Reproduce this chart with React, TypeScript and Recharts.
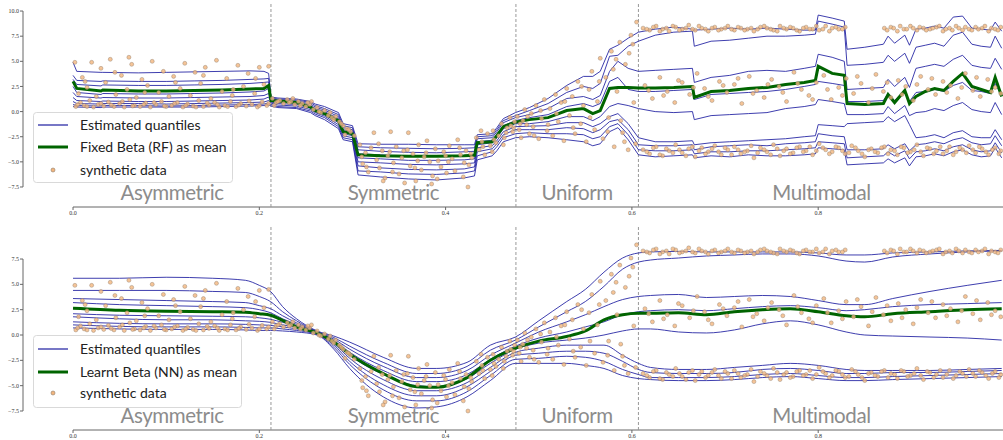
import React from 'react';
import { ComposedChart, Line, Scatter, XAxis, YAxis, ReferenceLine } from 'recharts';

// ---------- axes / regions ----------
const xTicks = [0, 0.2, 0.4, 0.6, 0.8];
const topYTicks = [-7.5, -5, -2.5, 0, 2.5, 5, 7.5, 10];
const bottomYTicks = [-7.5, -5, -2.5, 0, 2.5, 5, 7.5];
const regionBounds = [0, 0.2125, 0.4755, 0.607, 1.0];
const regionNames = ['Asymmetric', 'Symmetric', 'Uniform', 'Multimodal'];
const quantileKeys = ['q10', 'q20', 'q30', 'q40', 'q50', 'q60', 'q70', 'q80', 'q90'];

// ---------- top panel (Fixed Beta, RF): [x, q10..q90, mean] ----------
const topAsymmetric = [
  [0.000, 0.5, 0.7, 1.0, 1.4, 1.9, 2.5, 3.2, 3.6, 4.9, 3.0],
  [0.004, 0.45, 0.6, 0.8, 1.1, 1.5, 1.9, 2.7, 3.1, 4.0, 2.3],
  [0.030, 0.4, 0.55, 0.75, 1.0, 1.35, 1.7, 2.55, 3.0, 3.9, 2.05],
  [0.032, 0.45, 0.6, 0.8, 1.05, 1.4, 1.8, 2.65, 3.05, 3.9, 2.15],
  [0.070, 0.45, 0.6, 0.8, 1.0, 1.35, 1.75, 2.6, 3.0, 3.85, 2.05],
  [0.100, 0.45, 0.55, 0.75, 1.0, 1.35, 1.75, 2.6, 3.0, 3.9, 2.05],
  [0.130, 0.45, 0.6, 0.8, 1.05, 1.4, 1.8, 2.65, 3.05, 3.95, 2.1],
  [0.160, 0.5, 0.65, 0.85, 1.1, 1.45, 1.85, 2.7, 3.1, 4.0, 2.15],
  [0.190, 0.55, 0.7, 0.9, 1.15, 1.5, 1.95, 2.8, 3.2, 4.05, 2.25],
  [0.205, 0.6, 0.75, 0.95, 1.25, 1.6, 2.05, 2.9, 3.25, 4.0, 2.3],
  [0.210, 0.7, 0.85, 1.1, 1.45, 1.8, 2.3, 2.95, 3.3, 3.8, 2.6],
];
const topSymmetric = [
  [0.2125, 0.55, 0.7, 0.85, 0.95, 1.05, 1.15, 1.25, 1.35, 1.45, 1.1],
  [0.220, 0.4, 0.5, 0.65, 0.8, 0.95, 1.05, 1.15, 1.25, 1.35, 1.05],
  [0.240, 0.3, 0.4, 0.55, 0.7, 0.85, 0.95, 1.05, 1.15, 1.25, 0.9],
  [0.255, -0.1, 0.05, 0.2, 0.35, 0.45, 0.6, 0.75, 0.9, 1.0, 0.45],
  [0.260, -0.4, -0.25, -0.1, 0.05, 0.15, 0.3, 0.45, 0.6, 0.75, 0.1],
  [0.270, -0.8, -0.6, -0.45, -0.3, -0.15, 0.0, 0.15, 0.3, 0.5, -0.2],
  [0.285, -1.7, -1.5, -1.3, -1.1, -0.9, -0.7, -0.5, -0.3, -0.1, -0.9],
  [0.290, -2.8, -2.6, -2.4, -2.2, -2.0, -1.8, -1.6, -1.4, -1.2, -2.0],
  [0.300, -3.0, -2.8, -2.6, -2.4, -2.2, -2.0, -1.8, -1.6, -1.4, -2.2],
  [0.306, -6.3, -5.9, -5.4, -5.0, -4.6, -4.2, -3.8, -3.5, -3.2, -4.3],
  [0.330, -6.5, -6.0, -5.6, -5.1, -4.7, -4.3, -3.95, -3.6, -3.25, -4.4],
  [0.360, -6.7, -6.2, -5.75, -5.25, -4.85, -4.45, -4.05, -3.65, -3.25, -4.45],
  [0.390, -6.8, -6.25, -5.8, -5.3, -4.85, -4.45, -4.1, -3.7, -3.3, -4.45],
  [0.420, -6.6, -6.1, -5.7, -5.2, -4.8, -4.4, -4.0, -3.65, -3.3, -4.4],
  [0.431, -6.4, -5.9, -5.5, -5.1, -4.7, -4.3, -3.95, -3.6, -3.3, -4.35],
  [0.434, -4.8, -4.4, -4.0, -3.6, -3.3, -3.0, -2.7, -2.5, -2.3, -3.1],
  [0.450, -4.4, -4.0, -3.7, -3.4, -3.1, -2.85, -2.6, -2.4, -2.2, -3.0],
  [0.455, -3.9, -3.5, -3.2, -2.9, -2.6, -2.3, -2.0, -1.8, -1.6, -2.4],
  [0.462, -3.0, -2.6, -2.3, -2.0, -1.7, -1.4, -1.1, -0.9, -0.7, -1.5],
  [0.475, -2.6, -2.2, -1.8, -1.5, -1.2, -0.9, -0.6, -0.4, -0.1, -1.05],
];
const topUniform = [
  [0.490, -2.5, -2.1, -1.8, -1.45, -1.2, -0.6, -0.3, 0.1, 0.4, -0.8],
  [0.510, -2.6, -2.2, -1.8, -1.4, -1.0, -0.3, 0.3, 0.8, 1.3, -0.6],
  [0.530, -2.8, -2.2, -1.6, -1.1, -0.5, 0.5, 1.3, 1.9, 2.6, 0.1],
  [0.548, -3.0, -2.3, -1.7, -1.1, -0.5, 0.8, 1.5, 2.5, 3.5, 0.3],
  [0.558, -3.4, -2.7, -2.1, -1.5, -0.9, 0.5, 1.2, 2.3, 3.5, -0.2],
  [0.566, -3.2, -2.5, -1.8, -1.2, -0.5, 0.8, 1.6, 2.8, 4.0, 0.1],
  [0.576, -2.0, -1.5, -1.0, -0.5, 0.5, 3.0, 4.0, 5.5, 6.2, 2.3],
  [0.585, -1.6, -1.2, -0.8, -0.2, 0.8, 3.4, 5.0, 5.6, 6.6, 2.4],
  [0.596, -2.8, -2.3, -1.8, -1.2, 0.6, 2.2, 4.3, 6.5, 7.3, 2.4],
  [0.607, -4.3, -3.8, -3.3, -2.6, 0.3, 2.0, 4.0, 7.0, 7.9, 2.35],
];
const topMultimodal = [
  [0.625, -4.5, -3.9, -3.4, -3.0, 0.0, 2.0, 4.1, 7.6, 8.2, 2.35],
  [0.645, -4.4, -3.9, -3.4, -3.0, -0.1, 2.1, 4.2, 7.9, 8.4, 2.4],
  [0.665, -4.3, -3.8, -3.3, -2.9, 0.0, 2.2, 4.3, 8.0, 8.2, 2.5],
  [0.667, -4.6, -4.2, -3.8, -3.3, -0.8, 1.2, 2.9, 6.5, 8.1, 1.4],
  [0.685, -4.4, -4.0, -3.5, -3.1, -0.4, 1.7, 3.4, 7.0, 8.2, 2.0],
  [0.705, -4.5, -4.0, -3.4, -3.0, -0.3, 1.8, 3.6, 7.1, 8.3, 2.1],
  [0.725, -4.3, -3.9, -3.3, -2.9, -0.2, 1.9, 4.0, 7.3, 8.2, 2.3],
  [0.745, -4.4, -3.9, -3.4, -2.8, -0.1, 2.0, 4.1, 7.5, 8.3, 2.4],
  [0.765, -4.4, -3.8, -3.2, -2.7, 0.3, 2.2, 4.0, 7.5, 8.2, 2.7],
  [0.785, -4.3, -3.7, -3.1, -2.5, 0.5, 2.5, 4.3, 7.6, 8.1, 2.9],
  [0.797, -4.2, -3.6, -3.0, -2.4, 0.7, 2.7, 4.5, 7.7, 8.1, 3.1],
  [0.800, -3.6, -3.0, -2.2, -1.3, 1.2, 3.0, 5.7, 9.0, 9.6, 4.5],
  [0.815, -3.7, -3.1, -2.4, -1.4, 1.0, 2.8, 5.4, 8.7, 9.3, 3.8],
  [0.828, -3.8, -3.2, -2.5, -1.5, 0.8, 2.6, 5.0, 8.4, 9.0, 3.6],
  [0.831, -5.3, -4.6, -3.8, -1.2, -0.3, 1.0, 2.2, 4.6, 6.2, 0.8],
  [0.850, -5.2, -4.5, -3.8, -1.1, -0.3, 1.0, 2.3, 4.7, 6.4, 0.7],
  [0.870, -5.1, -4.4, -3.7, -1.0, -0.2, 1.1, 2.4, 4.9, 6.7, 0.8],
  [0.875, -4.7, -4.0, -3.3, -0.5, 0.5, 1.8, 3.2, 5.6, 7.5, 1.7],
  [0.882, -5.1, -4.4, -3.7, -1.0, -0.2, 1.1, 2.5, 5.0, 6.8, 0.9],
  [0.893, -4.6, -3.9, -3.2, -0.4, 0.6, 2.0, 3.4, 5.8, 7.6, 2.1],
  [0.898, -5.4, -4.7, -3.9, -1.3, -0.4, 1.0, 2.4, 4.8, 6.6, 0.8],
  [0.905, -4.5, -4.0, -3.3, -2.6, -0.1, 1.9, 4.3, 6.4, 8.2, 1.5],
  [0.915, -4.4, -3.9, -3.2, -2.5, 0.0, 2.0, 4.5, 6.6, 8.3, 2.0],
  [0.925, -4.2, -3.7, -3.0, -2.3, 0.3, 2.2, 4.7, 6.8, 8.5, 2.3],
  [0.935, -4.4, -3.9, -3.2, -2.6, 0.1, 2.0, 4.5, 6.5, 8.3, 2.1],
  [0.945, -4.0, -3.5, -2.8, -2.1, 0.6, 2.6, 5.2, 7.6, 9.4, 3.0],
  [0.955, -3.8, -3.3, -2.6, -1.9, 0.9, 2.9, 5.6, 7.9, 9.5, 3.8],
  [0.965, -4.3, -3.8, -3.1, -2.5, 0.2, 2.1, 4.6, 6.7, 8.3, 2.5],
  [0.975, -4.5, -4.0, -3.3, -2.6, 0.0, 2.0, 4.4, 6.5, 8.2, 2.2],
  [0.985, -4.4, -3.9, -3.2, -2.6, -0.1, 1.8, 4.3, 6.4, 8.1, 1.9],
  [0.990, -3.6, -3.1, -2.4, -1.8, 0.9, 2.8, 5.3, 7.5, 8.9, 3.4],
  [0.997, -4.6, -4.1, -3.4, -2.8, -0.3, 1.6, 4.2, 6.3, 8.0, 1.5],
];

// ---------- bottom panel (Learnt Beta, NN): [x, q10..q90, mean] ----------
const bottomAsymmetric = [
  [0.000, 0.7, 1.0, 1.3, 1.8, 2.1, 3.2, 3.6, 4.4, 5.6, 2.65],
  [0.050, 0.6, 0.85, 1.15, 1.6, 1.95, 3.0, 3.5, 4.4, 5.6, 2.45],
  [0.100, 0.55, 0.8, 1.1, 1.5, 1.9, 2.9, 3.4, 4.4, 5.7, 2.35],
  [0.150, 0.55, 0.8, 1.1, 1.5, 1.85, 2.8, 3.3, 4.3, 5.6, 2.3],
  [0.185, 0.5, 0.75, 1.05, 1.4, 1.8, 2.7, 3.2, 4.2, 5.4, 2.25],
  [0.200, 0.45, 0.7, 1.0, 1.35, 1.7, 2.5, 2.9, 3.8, 4.9, 2.1],
];
const bottomSymmetric = [
  [0.212, 0.45, 0.7, 0.95, 1.25, 1.55, 2.2, 2.6, 3.3, 4.3, 1.95],
  [0.225, 0.4, 0.6, 0.8, 1.0, 1.25, 1.6, 1.9, 2.3, 2.8, 1.45],
  [0.240, 0.3, 0.45, 0.6, 0.75, 0.9, 1.05, 1.2, 1.4, 1.6, 0.8],
  [0.262, 0.0, 0.05, 0.1, 0.15, 0.2, 0.25, 0.3, 0.35, 0.4, 0.2],
  [0.280, -1.4, -1.2, -1.0, -0.85, -0.7, -0.55, -0.4, -0.25, -0.1, -0.7],
  [0.297, -3.3, -2.9, -2.6, -2.3, -2.0, -1.7, -1.4, -1.1, -0.7, -1.9],
  [0.333, -6.1, -5.4, -4.9, -4.4, -3.9, -3.5, -3.1, -2.7, -2.2, -3.8],
  [0.369, -7.2, -6.5, -6.0, -5.5, -5.0, -4.6, -4.2, -3.8, -3.3, -5.1],
  [0.390, -7.1, -6.5, -6.0, -5.5, -5.1, -4.6, -4.2, -3.8, -3.3, -5.15],
  [0.423, -6.1, -5.6, -5.1, -4.7, -4.3, -3.9, -3.5, -3.1, -2.7, -4.2],
  [0.448, -4.5, -4.0, -3.6, -3.2, -2.8, -2.4, -2.0, -1.5, -1.0, -2.5],
  [0.475, -2.8, -2.4, -2.0, -1.7, -1.4, -1.1, -0.8, -0.5, -0.2, -1.3],
];
const bottomUniform = [
  [0.500, -2.8, -2.3, -1.8, -1.3, -0.8, -0.3, 0.3, 0.8, 1.4, -0.6],
  [0.530, -2.8, -2.1, -1.6, -1.0, -0.5, 0.3, 1.3, 2.3, 3.3, -0.15],
  [0.550, -3.0, -2.2, -1.6, -1.0, -0.3, 0.8, 2.0, 3.3, 4.5, 0.4],
  [0.570, -3.3, -2.6, -1.8, -1.0, 0.0, 1.3, 2.8, 4.8, 6.2, 1.5],
  [0.590, -4.0, -3.4, -2.6, -2.0, 0.4, 2.0, 3.5, 6.5, 7.6, 2.0],
  [0.607, -4.3, -3.9, -3.4, -2.8, 0.6, 2.3, 3.8, 7.2, 8.1, 2.15],
];
const bottomMultimodal = [
  [0.620, -4.4, -4.2, -3.7, -3.2, 0.6, 2.4, 3.9, 7.4, 8.2, 2.15],
  [0.650, -4.5, -4.2, -3.8, -3.4, 0.3, 2.5, 4.0, 7.6, 8.25, 2.2],
  [0.680, -4.5, -4.2, -3.8, -3.4, 0.2, 2.4, 3.7, 7.8, 8.2, 2.0],
  [0.710, -4.4, -4.1, -3.7, -3.2, 0.5, 2.6, 3.8, 7.9, 8.2, 2.3],
  [0.740, -4.2, -3.9, -3.4, -3.0, 1.1, 2.8, 3.9, 8.0, 8.2, 2.5],
  [0.770, -4.1, -3.8, -3.3, -2.8, 1.4, 2.9, 3.8, 8.0, 8.2, 2.6],
  [0.800, -4.3, -4.0, -3.5, -3.0, 1.0, 2.7, 3.4, 7.8, 8.1, 2.3],
  [0.830, -4.5, -4.2, -3.8, -3.4, 0.3, 2.4, 3.0, 7.3, 7.9, 1.9],
  [0.850, -4.5, -4.2, -3.8, -3.5, 0.0, 2.5, 3.0, 7.2, 7.9, 1.8],
  [0.880, -4.4, -4.1, -3.7, -3.5, -0.1, 2.8, 3.6, 7.7, 8.1, 2.1],
  [0.920, -4.3, -4.0, -3.7, -3.5, -0.2, 3.0, 4.3, 8.0, 8.2, 2.3],
  [0.960, -4.2, -3.9, -3.6, -3.4, -0.3, 3.1, 4.9, 8.2, 8.3, 2.5],
  [0.997, -4.1, -3.8, -3.5, -3.3, -0.5, 3.2, 5.4, 8.3, 8.35, 2.6],
];

// ---------- synthetic data (shared by both panels): [x, y] ----------
const asymmetricPoints = [
  [0.003, 0.5], [0.008, 0.9], [0.012, 0.6], [0.018, 1.1], [0.022, 0.45], [0.027, 0.7], [0.033, 0.55], [0.038, 0.95],
  [0.044, 0.5], [0.05, 0.8], [0.055, 0.45], [0.061, 1.2], [0.066, 0.6], [0.072, 0.5], [0.078, 0.85], [0.083, 0.45],
  [0.089, 0.7], [0.095, 1.0], [0.1, 0.5], [0.106, 0.6], [0.112, 0.9], [0.118, 0.45], [0.123, 0.75], [0.129, 0.55],
  [0.135, 1.1], [0.14, 0.5], [0.146, 0.65], [0.152, 0.9], [0.157, 0.45], [0.163, 0.6], [0.169, 1.0], [0.175, 0.5],
  [0.18, 0.8], [0.186, 0.55], [0.192, 0.7], [0.198, 0.45], [0.203, 0.95], [0.208, 0.6],
  [0.005, 0.7], [0.015, 0.5], [0.03, 0.8], [0.041, 0.65], [0.053, 1.0], [0.064, 0.55], [0.076, 0.7], [0.087, 0.9],
  [0.098, 0.55], [0.109, 0.8], [0.121, 0.6], [0.132, 0.45], [0.144, 0.85], [0.155, 0.7], [0.166, 0.5], [0.178, 0.65],
  [0.189, 1.05], [0.2, 0.6], [0.21, 0.8],
  [0.006, 1.8], [0.015, 2.4], [0.025, 1.5], [0.035, 2.9], [0.046, 1.7], [0.058, 2.2], [0.068, 1.4], [0.08, 2.6],
  [0.092, 1.9], [0.103, 1.5], [0.115, 2.3], [0.126, 1.6], [0.137, 2.8], [0.148, 1.3], [0.16, 2.0], [0.171, 1.6],
  [0.183, 2.5], [0.195, 1.8], [0.205, 2.7], [0.077, 1.9], [0.11, 2.9], [0.172, 2.2],
  [0.002, 4.9], [0.01, 3.4], [0.02, 4.9], [0.03, 4.3], [0.04, 5.2], [0.052, 3.6], [0.063, 4.7], [0.074, 3.2],
  [0.085, 5.0], [0.097, 4.0], [0.108, 3.5], [0.12, 4.8], [0.131, 3.9], [0.142, 4.4], [0.154, 5.1], [0.165, 3.3],
  [0.177, 4.6], [0.188, 3.8], [0.2, 4.4], [0.21, 4.5], [0.013, 3.0], [0.045, 3.9], [0.14, 3.6], [0.196, 3.3], [0.06, 5.4],
];
const symmetricPoints = [
  [0.214, 1.3], [0.218, 0.9], [0.222, 1.1], [0.226, 0.8], [0.23, 1.2], [0.234, 1.0], [0.238, 0.7], [0.242, 1.0],
  [0.246, 0.8], [0.25, 0.5], [0.254, 0.7], [0.258, 0.2], [0.262, 0.4], [0.266, -0.1], [0.27, 0.1], [0.274, -0.4],
  [0.278, -0.6], [0.282, -0.5], [0.286, -1.0], [0.29, -1.4], [0.294, -1.7], [0.298, -2.0], [0.302, -2.4],
  [0.216, 0.6], [0.236, 1.3], [0.256, 1.0], [0.276, -0.1], [0.292, -2.3],
  [0.22, 1.0], [0.232, 0.9], [0.244, 0.6], [0.252, 0.9], [0.264, 0.0], [0.28, -0.8], [0.288, -1.2], [0.296, -1.8],
  [0.308, -3.3], [0.311, -5.2], [0.314, -4.1], [0.317, -6.0], [0.32, -3.6], [0.323, -2.1], [0.326, -4.8], [0.329, -5.6],
  [0.332, -3.9], [0.335, -6.6], [0.338, -4.4], [0.341, -2.0], [0.344, -5.1], [0.347, -3.5], [0.35, -6.2], [0.353, -4.6],
  [0.356, -7.1], [0.359, -3.8], [0.362, -5.4], [0.365, -4.2], [0.368, -6.9], [0.371, -3.3], [0.374, -5.8], [0.377, -4.5],
  [0.38, -2.9], [0.383, -5.0], [0.386, -6.4], [0.389, -3.7], [0.392, -4.9], [0.395, -5.5], [0.398, -4.0], [0.401, -6.1],
  [0.404, -3.4], [0.407, -4.7], [0.41, -5.9], [0.413, -2.8], [0.416, -4.3], [0.419, -6.5], [0.422, -3.9], [0.425, -5.3],
  [0.428, -4.6], [0.424, -7.5], [0.31, -4.5], [0.34, -4.0], [0.37, -4.9], [0.4, -4.4], [0.42, -5.1], [0.333, -6.9],
  [0.385, -7.2], [0.36, -2.1], [0.315, -5.5], [0.328, -3.2], [0.343, -6.0], [0.355, -3.9], [0.367, -5.6], [0.379, -4.1],
  [0.391, -6.7], [0.403, -5.0], [0.415, -3.6], [0.427, -4.2],
  [0.433, -2.6], [0.436, -3.8], [0.439, -3.0], [0.442, -4.3], [0.445, -2.2], [0.448, -3.4], [0.451, -1.9], [0.454, -3.1],
  [0.457, -2.4], [0.46, -1.2], [0.463, -2.6], [0.466, -1.6], [0.469, -0.6], [0.472, -2.0], [0.474, -1.0], [0.438, -1.9],
  [0.45, -4.0], [0.462, -3.3], [0.47, -1.4], [0.44, -3.5], [0.452, -2.8], [0.465, -2.1], [0.473, -1.6],
];
const uniformPoints = [
  [0.477, -0.5], [0.479, -1.8], [0.481, -2.6], [0.483, -0.9], [0.485, 0.2], [0.487, -1.3], [0.49, -2.2], [0.492, -0.2],
  [0.494, -1.5], [0.497, 0.6], [0.5, -2.7], [0.503, -0.7], [0.506, 1.2], [0.509, -1.9], [0.512, 0.3], [0.515, -2.4],
  [0.518, 1.7], [0.521, -1.0], [0.524, 0.9], [0.527, -2.9], [0.53, 2.3], [0.533, -0.4], [0.536, 1.5], [0.539, -2.2],
  [0.542, 3.0], [0.545, -1.2], [0.548, 0.6], [0.551, -3.0], [0.554, 2.2], [0.557, 4.0], [0.56, -1.8], [0.563, 1.0],
  [0.566, 5.3], [0.569, -2.7], [0.572, 3.4], [0.575, -0.6], [0.578, 6.0], [0.581, -3.5], [0.584, 2.0], [0.587, 6.9],
  [0.59, -2.1], [0.593, 4.7], [0.596, -3.8], [0.599, 7.6], [0.602, 0.9], [0.605, 8.9], [0.604, -3.2], [0.597, 5.8],
  [0.588, -0.9], [0.58, 4.2], [0.48, -1.2], [0.488, -0.5], [0.495, -2.4], [0.502, 0.1], [0.51, -1.3], [0.519, -0.2],
  [0.528, 1.0], [0.537, -1.6], [0.546, 2.5], [0.555, -0.6], [0.565, 3.0], [0.574, -2.0], [0.583, 5.2], [0.592, -3.0],
  [0.601, 6.7],
];
const multimodalUpperPoints = [
  [0.612, 8.3], [0.619, 8.1], [0.626, 8.5], [0.633, 8.2], [0.64, 8.0], [0.647, 8.4], [0.654, 8.2], [0.661, 8.6],
  [0.668, 8.1], [0.675, 8.3], [0.682, 8.0], [0.689, 8.4], [0.696, 8.2], [0.703, 8.5], [0.71, 8.1], [0.717, 8.3],
  [0.724, 8.2], [0.731, 8.0], [0.738, 8.4], [0.745, 8.3], [0.752, 8.1], [0.759, 8.5], [0.766, 8.2], [0.773, 8.3],
  [0.78, 8.0], [0.787, 8.4], [0.794, 8.2], [0.801, 8.1], [0.808, 8.5], [0.815, 8.3], [0.822, 8.2], [0.829, 8.4],
  [0.871, 8.3], [0.878, 8.4], [0.885, 8.0], [0.892, 8.2], [0.899, 8.5], [0.906, 8.1], [0.913, 8.3], [0.92, 8.2],
  [0.927, 8.4], [0.934, 8.0], [0.941, 8.3], [0.948, 8.5], [0.955, 8.1], [0.962, 8.2], [0.969, 8.4], [0.976, 8.3],
  [0.983, 8.0], [0.99, 8.2], [0.996, 8.4],
  [0.616, 8.2], [0.623, 8.4], [0.63, 8.0], [0.637, 8.3], [0.644, 8.5], [0.651, 8.1], [0.658, 8.3], [0.665, 8.2],
  [0.672, 8.5], [0.679, 8.2], [0.686, 8.3], [0.693, 8.1], [0.7, 8.3], [0.707, 8.2], [0.714, 8.4], [0.721, 8.1],
  [0.728, 8.3], [0.735, 8.2], [0.742, 8.5], [0.749, 8.2], [0.756, 8.0], [0.763, 8.3], [0.77, 8.4], [0.777, 8.1],
  [0.784, 8.3], [0.791, 8.2], [0.798, 8.5], [0.805, 8.2], [0.812, 8.0], [0.819, 8.4], [0.826, 8.2], [0.874, 8.1],
  [0.881, 8.3], [0.888, 8.5], [0.895, 8.2], [0.902, 8.3], [0.909, 8.4], [0.916, 8.1], [0.923, 8.3], [0.93, 8.5],
  [0.937, 8.2], [0.944, 8.1], [0.951, 8.3], [0.958, 8.4], [0.965, 8.1], [0.972, 8.2], [0.979, 8.5], [0.986, 8.3],
  [0.993, 8.1],
];
const multimodalMiddlePoints = [
  [0.614, 2.6], [0.622, 1.3], [0.63, 3.4], [0.638, 2.0], [0.646, 0.9], [0.654, 2.9], [0.662, 1.7], [0.67, 3.8],
  [0.678, 2.3], [0.686, 1.1], [0.694, 3.0], [0.702, 1.9], [0.71, 2.7], [0.718, 0.8], [0.726, 3.5], [0.734, 2.1],
  [0.742, 1.4], [0.75, 3.2], [0.758, 2.5], [0.766, 1.0], [0.774, 3.9], [0.782, 2.2], [0.79, 1.6], [0.798, 2.9],
  [0.806, 3.6], [0.814, 1.2], [0.822, 2.4], [0.83, 3.3], [0.838, 1.8], [0.846, 2.8], [0.854, 0.9], [0.862, 3.7],
  [0.87, 2.0], [0.878, 1.4], [0.886, 3.1], [0.894, 2.5], [0.902, 1.1], [0.91, 3.5], [0.918, 2.2], [0.926, 1.7],
  [0.934, 3.0], [0.942, 2.6], [0.95, 1.3], [0.958, 3.8], [0.966, 2.1], [0.974, 1.5], [0.982, 3.2], [0.99, 2.4],
  [0.996, 1.8], [0.618, 2.1], [0.634, 1.6], [0.65, 3.1], [0.666, 2.4], [0.682, 1.5], [0.698, 2.6], [0.714, 3.3],
  [0.73, 1.8], [0.746, 2.7], [0.762, 1.9], [0.778, 2.8], [0.794, 1.2], [0.81, 2.2], [0.826, 1.6], [0.842, 3.5],
  [0.858, 2.3], [0.874, 2.9], [0.89, 1.7], [0.906, 2.7], [0.922, 3.3], [0.938, 1.9], [0.954, 2.4], [0.97, 3.4],
  [0.986, 2.0],
];
const multimodalLowerPoints = [
  [0.612, -3.8], [0.619, -4.2], [0.626, -3.5], [0.633, -4.4], [0.64, -3.9], [0.647, -3.3], [0.654, -4.1], [0.661, -3.7],
  [0.668, -4.5], [0.675, -3.6], [0.682, -4.0], [0.689, -3.4], [0.696, -4.3], [0.703, -3.8], [0.71, -3.5], [0.717, -4.2],
  [0.724, -3.9], [0.731, -4.6], [0.738, -3.6], [0.745, -4.0], [0.752, -3.3], [0.759, -4.4], [0.766, -3.7], [0.773, -4.1],
  [0.78, -3.5], [0.787, -3.9], [0.794, -4.3], [0.801, -3.2], [0.808, -3.8], [0.815, -4.0], [0.822, -3.6], [0.829, -4.2],
  [0.836, -3.4], [0.843, -3.9], [0.85, -4.5], [0.857, -3.7], [0.864, -4.1], [0.871, -3.5], [0.878, -3.8], [0.885, -4.3],
  [0.892, -3.6], [0.899, -4.0], [0.906, -3.3], [0.913, -4.4], [0.92, -3.7], [0.927, -3.9], [0.934, -4.2], [0.941, -3.5],
  [0.948, -4.0], [0.955, -3.8], [0.962, -3.4], [0.969, -4.1], [0.976, -3.7], [0.983, -4.3], [0.99, -3.6], [0.996, -3.9],
  [0.616, -4.0], [0.623, -3.6], [0.63, -4.3], [0.637, -3.7], [0.644, -4.1], [0.651, -3.8], [0.658, -4.4], [0.665, -3.5],
  [0.672, -3.9], [0.679, -4.2], [0.686, -3.7], [0.693, -4.0], [0.7, -3.6], [0.707, -4.3], [0.714, -3.8], [0.721, -4.0],
  [0.728, -3.4], [0.735, -4.1], [0.742, -3.8], [0.749, -4.3], [0.756, -3.7], [0.763, -3.9], [0.77, -4.2], [0.777, -3.6],
  [0.784, -4.0], [0.791, -3.5], [0.798, -3.9], [0.805, -3.6], [0.812, -4.2], [0.819, -3.5], [0.826, -3.9], [0.833, -4.1],
  [0.84, -3.6], [0.847, -4.2], [0.854, -3.8], [0.861, -4.0], [0.868, -3.6], [0.875, -4.2], [0.882, -3.9], [0.889, -3.5],
  [0.896, -4.1], [0.903, -3.8], [0.91, -4.0], [0.917, -3.6], [0.924, -4.2], [0.931, -3.5], [0.938, -3.9], [0.945, -4.3],
  [0.952, -3.6], [0.959, -4.1], [0.966, -3.8], [0.973, -3.5], [0.98, -4.0], [0.987, -3.8], [0.994, -4.2],
];

// ---------- layout / style constants ----------
const X_MIN = -0.0537;
const X_MAX = 0.9984;
const TOP_Y: [number, number] = [-9.49, 10.8];
const BOTTOM_Y: [number, number] = [-9.375, 10.66];
const TOP_LABEL_Y = -8.8;
const BOTTOM_LABEL_Y = -8.65;
const BLUE = '#1c1ca0';
const GREEN = '#006400';
const SPINE = '#666';

const toTable = (parts: number[][][]) =>
  parts.flat().map((r) => {
    const o: Record<string, number> = { x: r[0], mean: r[10] };
    quantileKeys.forEach((k, i) => (o[k] = r[i + 1]));
    return o;
  });

const topData = toTable([topAsymmetric, topSymmetric, topUniform, topMultimodal]);
const bottomData = toTable([bottomAsymmetric, bottomSymmetric, bottomUniform, bottomMultimodal]);
const points = [
  ...asymmetricPoints, ...symmetricPoints, ...uniformPoints,
  ...multimodalUpperPoints, ...multimodalMiddlePoints, ...multimodalLowerPoints,
].map(([x, y]) => ({ x, y }));

const fmtY = (v: number) => (v < 0 ? '\u2212' + Math.abs(v).toFixed(1) : v.toFixed(1));
const fmtX = (v: number) => v.toFixed(1);

const dotShape = (p: any) => (
  <circle cx={p.cx} cy={p.cy} r={2} fill="#f3b57d" fillOpacity={0.8} stroke="#8d7c6c" strokeOpacity={0.7} strokeWidth={0.6} />
);
const labelShape = (p: any) => (
  <text x={p.cx} y={p.cy} textAnchor="middle" fontFamily="Lato, 'Open Sans', sans-serif" fontWeight={400} fontSize={20.5} letterSpacing={-0.4} fill="#8c8c8c">
    {p.payload.name}
  </text>
);

function Panel({ data, yDomain, yTicks, labelY, curve, marginTop, xAxisHeight }: any) {
  const labels = regionNames.map((name, i) => ({ x: (regionBounds[i] + regionBounds[i + 1]) / 2, y: labelY, name }));
  const yTop = yTicks[yTicks.length - 1];
  const yBottom = yTicks[0];
  return (
    <ComposedChart width={1003} height={220} data={data} margin={{ top: marginTop, right: 0, bottom: 0, left: 0 }}>
      <XAxis
        type="number" dataKey="x" domain={[X_MIN, X_MAX]} allowDataOverflow ticks={xTicks} interval={0}
        height={xAxisHeight} axisLine={false} tickLine={{ stroke: SPINE }} tickSize={3} tickMargin={1}
        tick={{ fontSize: 6, fill: '#333', fontFamily: "'Liberation Serif', serif" }} tickFormatter={fmtX}
      />
      <YAxis
        type="number" domain={yDomain} allowDataOverflow ticks={yTicks} interval={0} width={23}
        axisLine={false} tickLine={{ stroke: SPINE }} tickSize={3} tickMargin={1}
        tick={{ fontSize: 6, fill: '#333', fontFamily: "'Liberation Serif', serif" }} tickFormatter={fmtY}
      />
      <ReferenceLine segment={[{ x: X_MIN, y: yBottom }, { x: X_MIN, y: yTop }]} stroke={SPINE} strokeWidth={1} ifOverflow="visible" />
      <ReferenceLine segment={[{ x: 0, y: yDomain[0] }, { x: X_MAX, y: yDomain[0] }]} stroke={SPINE} strokeWidth={1} ifOverflow="visible" />
      {regionBounds.slice(1, -1).map((b) => (
        <ReferenceLine key={b} x={b} stroke="#999" strokeDasharray="3 2" strokeWidth={1} />
      ))}
      <Scatter data={points} dataKey="y" shape={dotShape} isAnimationActive={false} />
      {quantileKeys.map((k) => (
        <Line key={k} type={curve} dataKey={k} stroke={BLUE} strokeOpacity={0.85} strokeWidth={1} dot={false} isAnimationActive={false} />
      ))}
      <Line type={curve} dataKey="mean" stroke={GREEN} strokeWidth={3} dot={false} isAnimationActive={false} />
      <Scatter data={labels} dataKey="y" shape={labelShape} isAnimationActive={false} />
    </ComposedChart>
  );
}

function LegendBox({ left, top, width, height, meanLabel, rows }: any) {
  const font = "Lato, 'Open Sans', sans-serif";
  return (
    <svg style={{ position: 'absolute', left, top }} width={width + 2} height={height + 2}>
      <rect x={0.5} y={0.5} width={width} height={height} rx={3} fill="#fff" fillOpacity={0.85} stroke="#d9d9d9" />
      <line x1={5} x2={35} y1={rows[0]} y2={rows[0]} stroke={BLUE} strokeWidth={1.2} />
      <text x={47} y={rows[0] + 5} fontFamily={font} fontSize={14} fill="#222">Estimated quantiles</text>
      <line x1={5} x2={35} y1={rows[1]} y2={rows[1]} stroke={GREEN} strokeWidth={3} />
      <text x={47} y={rows[1] + 5} fontFamily={font} fontSize={14} fill="#222">{meanLabel}</text>
      <circle cx={20} cy={rows[2]} r={2} fill="#f3b57d" stroke="#8d7c6c" strokeWidth={0.6} />
      <text x={47} y={rows[2] + 5} fontFamily={font} fontSize={14} fill="#222">synthetic data</text>
    </svg>
  );
}

export default function App() {
  return (
    <div style={{ position: 'absolute', left: 0, top: 0, width: 1003, height: 440, background: '#fff' }}>
      <div style={{ position: 'absolute', left: 0, top: 0 }}>
        <Panel data={topData} yDomain={TOP_Y} yTicks={topYTicks} labelY={TOP_LABEL_Y} curve="linear" marginTop={3} xAxisHeight={13} />
      </div>
      <div style={{ position: 'absolute', left: 0, top: 220 }}>
        <Panel data={bottomData} yDomain={BOTTOM_Y} yTicks={bottomYTicks} labelY={BOTTOM_LABEL_Y} curve="monotone" marginTop={7} xAxisHeight={10} />
      </div>
      <LegendBox left={33} top={112} width={199} height={70} meanLabel="Fixed Beta (RF) as mean" rows={[13, 35, 58]} />
      <LegendBox left={33} top={335} width={208} height={72} meanLabel="Learnt Beta (NN) as mean" rows={[14, 37, 58]} />
    </div>
  );
}
